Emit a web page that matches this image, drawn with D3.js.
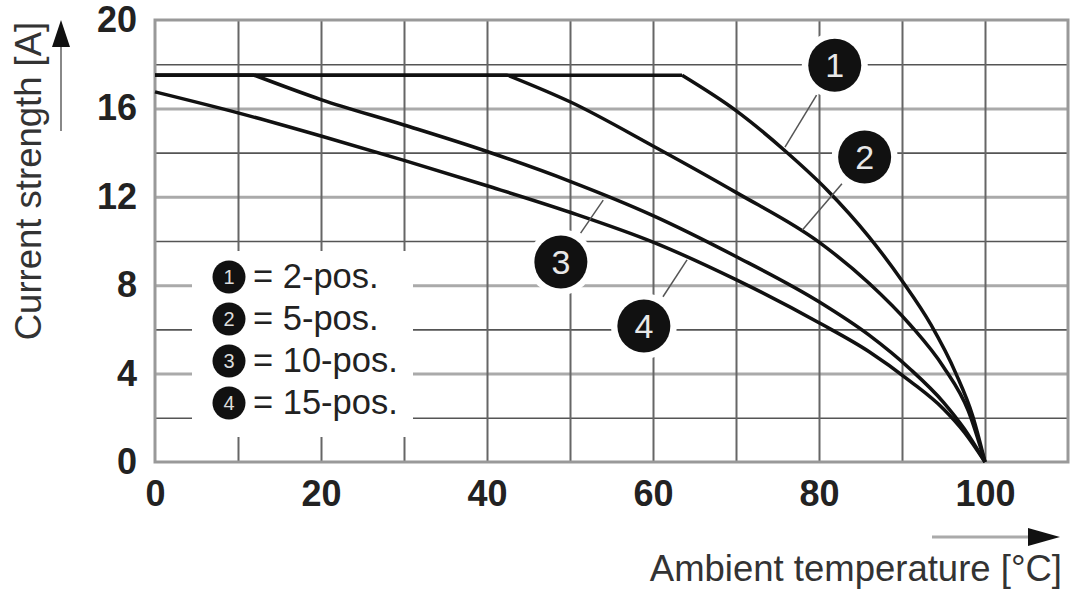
<!DOCTYPE html>
<html lang="en">
<head>
<meta charset="UTF-8">
<title>Derating curve</title>
<script src="https://d3js.org/d3.v7.min.js"></script>
<style>
  body { margin: 0; background: #fff; }
  text { font-family: "Liberation Sans", Arial, Helvetica, sans-serif; }
</style>
</head>
<body>
<script>
// ambient temperature [°C] / current [A]
var t2pos  = [0, 63.5, 70, 76, 81, 86, 90, 93.5, 96.5, 98.5, 100];
var i2pos  = [17.5, 17.5, 15.9, 14.05, 12.3, 10.2, 8.2, 6.2, 4.0, 2.1, 0];
var t5pos  = [0, 42.5, 50, 60, 70, 80, 86, 91, 95, 98, 100];
var i5pos  = [17.5, 17.5, 16.3, 14.3, 12.2, 9.95, 8.1, 6.2, 4.3, 2.3, 0];
var t10pos = [0, 12, 20, 30, 40, 50, 60, 70, 80, 86, 91, 95, 97.5, 100];
var i10pos = [17.5, 17.5, 16.4, 15.25, 14.05, 12.7, 11.15, 9.3, 7.25, 5.75, 4.2, 2.7, 1.5, 0];
var t15pos = [0, 10, 20, 30, 40, 50, 60, 70, 80, 86, 91, 95, 97.5, 100];
var i15pos = [16.75, 15.8, 14.75, 13.65, 12.5, 11.3, 9.95, 8.25, 6.3, 5.0, 3.65, 2.4, 1.35, 0];

var seriesNames = ["2-pos.", "5-pos.", "10-pos.", "15-pos."];
var xTicks = [0, 20, 40, 60, 80, 100];
var yTicks = [0, 4, 8, 12, 16, 20];

// callout bubbles: centre and the point on the curve they point to (data units)
var calloutT  = [81.9, 85.5, 48.9, 58.9];
var calloutI  = [17.95, 13.8, 9.05, 6.15];
var targetT   = [75.9, 78.0, 54.0, 64.1];
var targetI   = [14.25, 10.5, 11.85, 9.15];

var width = 1070, height = 589;

var x = d3.scaleLinear().domain([0, 110]).range([155, 1068]);
var y = d3.scaleLinear().domain([0, 20]).range([462, 20]);

var svg = d3.select("body").append("svg")
    .attr("width", width)
    .attr("height", height);

// grid
var yGrid = d3.axisLeft(y)
    .tickValues(d3.range(2, 20, 2))
    .tickSize(-(x(110) - x(0)))
    .tickFormat("");
svg.append("g")
    .attr("transform", "translate(" + x(0) + ",0)")
    .call(yGrid)
    .call(function(g) { g.select(".domain").remove(); })
    .selectAll("line")
    .attr("stroke", function(d) { return d % 4 === 0 ? "#aaa" : "#555"; })
    .attr("stroke-width", function(d) { return d % 4 === 0 ? 3 : 1.6; });

var xGrid = d3.axisBottom(x)
    .tickValues(d3.range(10, 110, 10))
    .tickSize(-(y(0) - y(20)))
    .tickFormat("");
svg.append("g")
    .attr("transform", "translate(0," + y(0) + ")")
    .call(xGrid)
    .call(function(g) { g.select(".domain").remove(); })
    .selectAll("line")
    .attr("stroke", "#666")
    .attr("stroke-width", 2);

// frame
svg.append("rect")
    .attr("x", x(0)).attr("y", y(20))
    .attr("width", x(110) - x(0)).attr("height", y(0) - y(20))
    .attr("fill", "none")
    .attr("stroke", "#999")
    .attr("stroke-width", 3);

// tick labels
svg.append("g")
    .attr("transform", "translate(" + x(0) + ",0)")
    .call(d3.axisLeft(y).tickValues(yTicks).tickSize(0).tickPadding(18))
    .call(function(g) { g.select(".domain").remove(); })
    .selectAll("text")
    .attr("font-family", "Liberation Sans, Arial, sans-serif")
    .attr("font-size", 36)
    .attr("font-weight", "bold")
    .attr("fill", "#222");

svg.append("g")
    .attr("transform", "translate(0," + y(0) + ")")
    .call(d3.axisBottom(x).tickValues(xTicks).tickSize(0).tickPadding(18))
    .call(function(g) { g.select(".domain").remove(); })
    .selectAll("text")
    .attr("font-family", "Liberation Sans, Arial, sans-serif")
    .attr("font-size", 36)
    .attr("font-weight", "bold")
    .attr("fill", "#222");

// legend box (white, hides the grid behind it)
var legend = svg.append("g").attr("transform", "translate(192,251)");
legend.append("rect")
    .attr("width", 221).attr("height", 186)
    .attr("fill", "#fff");
seriesNames.forEach(function(name, i) {
    var cy = 26 + i * 42;
    legend.append("circle")
        .attr("cx", 37).attr("cy", cy).attr("r", 16.5)
        .attr("fill", "#111");
    legend.append("text")
        .attr("x", 37).attr("y", cy + 7)
        .attr("text-anchor", "middle")
        .attr("font-size", 20)
        .attr("fill", "#ddd")
        .text(i + 1);
    legend.append("text")
        .attr("x", 61).attr("y", cy + 11)
        .attr("font-size", 34.5)
        .attr("fill", "#222")
        .text("= " + name);
});

// white halos around callouts
calloutT.forEach(function(t, i) {
    svg.append("circle")
        .attr("cx", x(t)).attr("cy", y(calloutI[i])).attr("r", 33)
        .attr("fill", "#fff");
});

// curves: straight plateau, then a smooth fall to 0 A at 100 °C
var allT = [t2pos, t5pos, t10pos, t15pos];
var allI = [i2pos, i5pos, i10pos, i15pos];
var lineFlat = d3.line().x(function(d) { return x(d[0]); }).y(function(d) { return y(d[1]); });
var lineCurve = d3.line().x(function(d) { return x(d[0]); }).y(function(d) { return y(d[1]); })
    .curve(d3.curveMonotoneX);

allT.forEach(function(ts, s) {
    var pts = ts.map(function(t, i) { return [t, allI[s][i]]; });
    var knee = pts[0][1] === pts[1][1] ? 1 : 0;
    if (knee) {
        svg.append("path")
            .attr("d", lineFlat(pts.slice(0, knee + 1)))
            .attr("fill", "none")
            .attr("stroke", "#111")
            .attr("stroke-width", 3.5);
    }
    svg.append("path")
        .attr("d", lineCurve(pts.slice(knee)))
        .attr("fill", "none")
        .attr("stroke", "#111")
        .attr("stroke-width", 3.5)
        .attr("stroke-linejoin", "round");
});

// callouts
calloutT.forEach(function(t, i) {
    var cx = x(t), cy = y(calloutI[i]);
    var tx = x(targetT[i]), ty = y(targetI[i]);
    var dx = tx - cx, dy = ty - cy, len = Math.sqrt(dx * dx + dy * dy);
    svg.append("line")
        .attr("x1", cx + dx / len * 35).attr("y1", cy + dy / len * 35)
        .attr("x2", tx).attr("y2", ty)
        .attr("stroke", "#555")
        .attr("stroke-width", 1.5);
    svg.append("circle")
        .attr("cx", cx).attr("cy", cy).attr("r", 26.5)
        .attr("fill", "#111");
    svg.append("text")
        .attr("x", cx).attr("y", cy + 12)
        .attr("text-anchor", "middle")
        .attr("font-size", 34)
        .attr("fill", "#e8e8e8")
        .text(i + 1);
});

// axis titles and arrows
svg.append("text")
    .attr("transform", "translate(41,181) rotate(-90)")
    .attr("text-anchor", "middle")
    .attr("font-size", 36.5)
    .attr("fill", "#333")
    .text("Current strength [A]");

svg.append("line")
    .attr("x1", 61).attr("y1", 131).attr("x2", 61).attr("y2", 44)
    .attr("stroke", "#888").attr("stroke-width", 2);
svg.append("path")
    .attr("d", "M61,20 L52,47 L70,47 Z")
    .attr("fill", "#111");

svg.append("text")
    .attr("x", 1062).attr("y", 581)
    .attr("text-anchor", "end")
    .attr("font-size", 36.5)
    .attr("fill", "#333")
    .text("Ambient temperature [°C]");

svg.append("line")
    .attr("x1", 932).attr("y1", 537).attr("x2", 1032).attr("y2", 537)
    .attr("stroke", "#aaa").attr("stroke-width", 3);
svg.append("path")
    .attr("d", "M1060,537 L1028,528 L1028,546 Z")
    .attr("fill", "#111");
</script>
</body>
</html>
